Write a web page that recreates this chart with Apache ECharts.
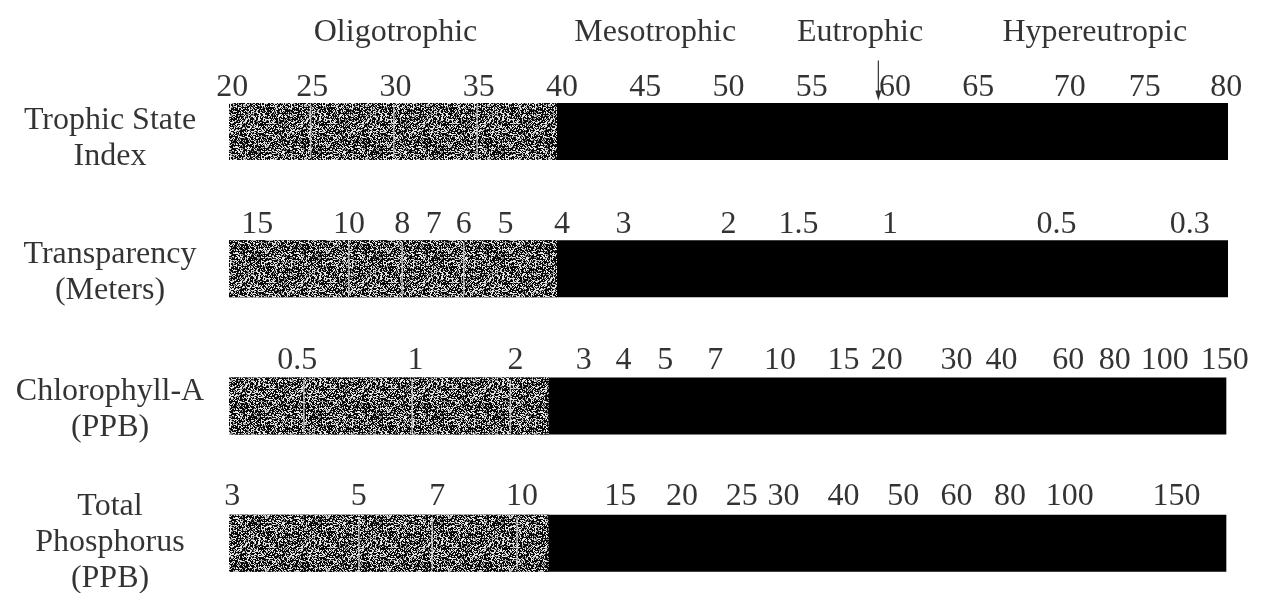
<!DOCTYPE html>
<html>
<head>
<meta charset="utf-8">
<script src="https://cdn.jsdelivr.net/npm/echarts@6/dist/echarts.min.js"></script>
<style>html,body{margin:0;padding:0;background:#fff}#c{width:1264px;height:593px}</style>
</head>
<body>
<div id="c"></div>
<script>
// ---- data ----
const rowNames = ['Trophic State\nIndex', 'Transparency\n(Meters)', 'Chlorophyll-A\n(PPB)', 'Total\nPhosphorus\n(PPB)'];
const stateNames = ['Oligotrophic', 'Mesotrophic', 'Eutrophic', 'Hypereutropic'];
const statePos = [30.0, 45.6, 57.9, 72.0];
const barStart = [20, 20, 20, 20];
const greyEnd = [39.7, 39.7, 39.2, 39.2];
const barEnd = [80, 80, 79.9, 79.9];
const greyDividers = [[24.9, 29.9, 34.9], [27.2, 30.4, 34.1], [24.5, 31, 36.9], [27.8, 32.2, 37.3]];
const tsiLabels = ['20', '25', '30', '35', '40', '45', '50', '55', '60', '65', '70', '75', '80'];
const tsiPos = [20.2, 25, 30, 35, 40, 45, 50, 55, 60, 65, 70.5, 75, 79.9];
const sdLabels = ['15', '10', '8', '7', '6', '5', '4', '3', '2', '1.5', '1', '0.5', '0.3'];
const sdPos = [21.7, 27.2, 30.4, 32.3, 34.1, 36.6, 40.0, 43.7, 50.0, 54.2, 59.7, 69.7, 77.7];
const chlLabels = ['0.5', '1', '2', '3', '4', '5', '7', '10', '15', '20', '30', '40', '60', '80', '100', '150'];
const chlPos = [24.1, 31.2, 37.2, 41.3, 43.7, 46.2, 49.2, 53.1, 56.9, 59.5, 63.7, 66.4, 70.4, 73.2, 76.2, 79.8];
const tpLabels = ['3', '5', '7', '10', '15', '20', '25', '30', '40', '50', '60', '80', '100', '150'];
const tpPos = [20.2, 27.8, 32.5, 37.6, 43.5, 47.2, 50.8, 53.3, 56.9, 60.5, 63.7, 66.9, 70.5, 76.9];
const arrowPos = 59.0;

// ---- styles ----
const FONT = 'Liberation Serif';
const FS = 32;
const BAR_H = 57;
const tickOffsets = [-44, -44, -45, -47];
const rowLabelOffsets = [7, 4, 4, -1];

// speckle texture (visual style only, deterministic)
const TW = 61, TH = 53;
const tex = document.createElement('canvas');
tex.width = TW; tex.height = TH;
const tctx = tex.getContext('2d');
tctx.fillStyle = '#0a0a0a'; tctx.fillRect(0, 0, TW, TH);
for (let i = 0; i < TW; i++) for (let j = 0; j < TH; j++) {
  let h = (i * 374761393 + j * 668265263) | 0;
  h = Math.imul(h ^ (h >>> 13), 1274126177);
  h = (h ^ (h >>> 16)) >>> 0;
  const m = h % 100;
  if (m < 30) { tctx.fillStyle = '#e6e6e6'; tctx.fillRect(i, j, 1, 1); }
  else if (m < 44) { tctx.fillStyle = '#8f8f8f'; tctx.fillRect(i, j, 1, 1); }
}

// ---- build ----
const rowTicks = [[tsiLabels, tsiPos], [sdLabels, sdPos], [chlLabels, chlPos], [tpLabels, tpPos]];
const tickSeries = rowTicks.map(([labs, pos], r) => ({
  type: 'scatter', data: labs.map((l, i) => ({ value: [pos[i], r], name: l })), symbolSize: 0, clip: false, silent: true,
  label: { show: true, position: 'inside', offset: [0, tickOffsets[r]], formatter: p => p.data.name, fontFamily: FONT, fontSize: FS, color: '#000' }
}));
const rowLabelSeries = rowNames.map((n, r) => ({
  type: 'scatter', data: [{ value: [barStart[r], r], name: n }], symbolSize: 0, clip: false, silent: true,
  label: { show: true, position: 'inside', offset: [-119, rowLabelOffsets[r]], formatter: p => p.data.name, fontFamily: FONT, fontSize: FS, lineHeight: 36, align: 'center', color: '#000' }
}));
const stateData = stateNames.map((n, i) => ({ value: [statePos[i], 0], name: n }));
const barData = rowNames.map((n, r) => [r, barStart[r], greyEnd[r], barEnd[r]]);

const chart = echarts.init(document.getElementById('c'));
chart.setOption({
  backgroundColor: '#fff',
  animation: false,
  grid: { left: 229, right: 36, top: 63, bottom: 0 },
  xAxis: { type: 'value', min: 20, max: 80, show: false },
  yAxis: { type: 'value', min: -0.5, max: 3.362, inverse: true, show: false },
  series: [
    {
      type: 'custom', data: barData, silent: true, clip: false,
      encode: { x: [1, 2, 3], y: 0 },
      renderItem: (params, api) => {
        const r = api.value(0);
        const p0 = api.coord([api.value(1), r]);
        const pg = api.coord([api.value(2), r]);
        const p1 = api.coord([api.value(3), r]);
        const top = p0[1] - BAR_H / 2;
        const children = [
          { type: 'rect', shape: { x: p0[0], y: top, width: p1[0] - p0[0], height: BAR_H }, style: { fill: '#000' } },
          { type: 'rect', shape: { x: p0[0], y: top, width: pg[0] - p0[0], height: BAR_H }, style: { fill: { image: tex, repeat: 'repeat' } } }
        ];
        greyDividers[r].forEach(v => {
          const d = api.coord([v, r]);
          children.push({ type: 'line', shape: { x1: d[0], y1: top + 2, x2: d[0], y2: top + BAR_H - 2 }, style: { stroke: 'rgba(220,220,220,0.8)', lineWidth: 1.5 } });
        });
        return { type: 'group', children };
      }
    },
    ...tickSeries,
    ...rowLabelSeries,
    {
      type: 'scatter', data: stateData, symbolSize: 0, clip: false, silent: true,
      label: { show: true, position: 'inside', offset: [0, -99], formatter: p => p.data.name, fontFamily: FONT, fontSize: FS, color: '#000' }
    },
    {
      type: 'scatter', data: [[arrowPos, 0]], clip: false, silent: true,
      symbol: 'path://M4.4,0 L5.6,0 L5.6,30 L8,30 L5,40 L2,30 L4.4,30 Z',
      symbolSize: [6, 40], symbolOffset: [0, -51], itemStyle: { color: '#000' }
    }
  ]
});
</script>
</body>
</html>
